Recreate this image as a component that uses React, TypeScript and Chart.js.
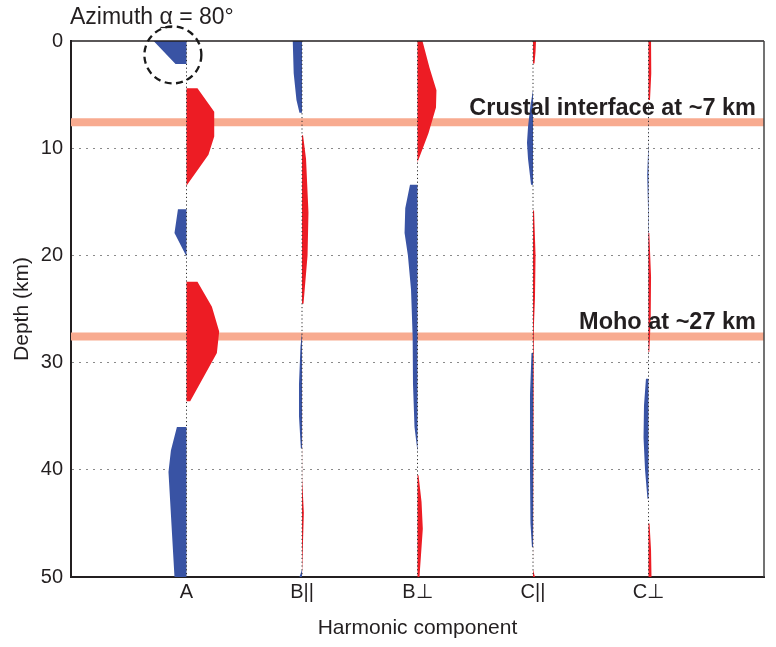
import React, { useEffect, useRef } from 'react';
import { Chart, registerables } from 'chart.js';

Chart.register(...registerables);

// ---- data ----
const categories = ['A', 'B||', 'B⊥', 'C||', 'C⊥'];
const depthTickStep = 10;
const depthMin = 0;
const depthMax = 50;
const interfaceDepths = [7.57, 27.57];
const interfaceLabels = ['Crustal interface at ~7 km', 'Moho at ~27 km'];
const titleParts = ['Azimuth ', 'α', ' = 80°'];
const highlightPoint = { component: 0.882, depth: 1.3 };

// amplitudes in % of the spacing between components
const depthA = [0, 2.15, 2.15, 4.4, 4.4, 6.6, 8.9, 10.6, 13.5, 15.7, 15.7, 17.9, 20.1, 22.45, 22.45, 24.8, 27.1, 29.1, 33.6, 33.6, 36, 36, 38.2, 40.2, 50];
const ampA = [-28.5, -9.5, 0, 0, 9.5, 24, 24, 19, 0, 0, -7.4, -10.4, 0, 0, 9.5, 22, 28.3, 26.3, 3.2, 0, 0, -8.3, -13.5, -15.6, -10.4];

const depthBpar = [0, 3, 5.5, 6.7, 6.7, 8.8, 8.8, 11, 16, 20, 24.5, 24.5, 27.2, 28.5, 32, 35, 38, 38, 40.8, 40.8, 44, 47.3, 47.3, 49.3, 50];
const ampBpar = [-8, -7.2, -4.8, -2.2, 0, 0, 0.9, 3.5, 5.6, 4.8, 1.3, 0, 0, -1.3, -2.6, -2.6, -1, 0, 0, 0.7, 1.6, 0.7, 0, 0, -2.2];

const depthBperp = [0, 2.5, 4.6, 6.2, 8.6, 11.3, 13.4, 13.4, 15.6, 17.9, 20, 23.2, 27.6, 32, 36, 38.3, 40.5, 40.5, 43, 45.5, 48, 50];
const ampBperp = [4.3, 10.4, 16.4, 16, 9.5, 0, 0, -6.5, -10.6, -11.2, -8.3, -5.6, -4.2, -3.9, -2.6, 0, 0, 0.9, 3.5, 4.6, 3, 1.7];

const depthCpar = [0, 1, 2.1, 2.1, 4.6, 6, 8, 9.5, 11, 13.4, 13.4, 15.8, 15.8, 20, 24, 26.8, 26.8, 29.1, 29.1, 33, 40, 45, 47.2, 47.2, 49.3, 50];
const ampCpar = [2.6, 2.2, 1.3, 0, 0, -2.2, -4.3, -5.2, -4.3, -1.7, 0, 0, 0.9, 2.2, 1.7, 0.7, 0, 0, -1.3, -2.6, -2.6, -2.2, -0.9, 0, 0, 1.7];

const depthCperp = [0, 3, 5.5, 5.5, 9.5, 9.5, 12.5, 15.6, 15.6, 17.9, 17.9, 22, 26, 29, 29, 31.5, 31.5, 34, 37, 40, 42.7, 42.7, 45, 45, 47.5, 50];
const ampCperp = [2.2, 2.4, 1.3, 0, 0, -0.4, -1.1, -0.4, 0, 0, 0.7, 2.2, 1.9, 0.7, 0, 0, -2.2, -3.9, -4.3, -3, -0.9, 0, 0, 0.9, 2.2, 2.6];

const traceDepths = [depthA, depthBpar, depthBperp, depthCpar, depthCperp];
const traceAmps = [ampA, ampBpar, ampBperp, ampCpar, ampCperp];

const RED = '#ed1c24';
const BLUE = '#3953a4';
const BAND = '#f8ab90';
const INK = '#231f20';
const FONT = '"Liberation Sans", Arial, Helvetica, sans-serif';

function buildDatasets() {
  const ds: any[] = [];
  interfaceDepths.forEach((d) => {
    ds.push({
      data: [{ x: 0, y: d }, { x: categories.length + 1, y: d }],
      borderColor: BAND,
      borderWidth: 8,
      borderCapStyle: 'butt',
      pointRadius: 0,
      fill: false,
      order: 3,
    });
  });
  traceDepths.forEach((depths, i) => {
    const c = i + 1;
    const amps = traceAmps[i];
    const pos = depths.map((d, k) => ({ x: c + Math.max(0, amps[k]) / 100, y: d }));
    const neg = depths.map((d, k) => ({ x: c + Math.min(0, amps[k]) / 100, y: d }));
    ds.push({
      data: pos,
      borderWidth: 0,
      borderColor: 'rgba(0,0,0,0)',
      backgroundColor: RED,
      pointRadius: 0,
      fill: { value: c },
      order: 2,
    });
    ds.push({
      data: neg,
      borderWidth: 0,
      borderColor: 'rgba(0,0,0,0)',
      backgroundColor: BLUE,
      pointRadius: 0,
      fill: { value: c },
      order: 2,
    });
    ds.push({
      data: [{ x: c, y: depthMin }, { x: c, y: depthMax }],
      borderColor: '#2e2e2e',
      borderWidth: 1,
      borderDash: [1.2, 2.6],
      pointRadius: 0,
      fill: false,
      order: 1,
    });
  });
  return ds;
}

const overlayPlugin = {
  id: 'overlay',
  afterDatasetsDraw(chart: any) {
    const { ctx, chartArea, scales } = chart;
    const xs = scales.x;
    const ys = scales.y;
    ctx.save();
    // top and right frame
    ctx.lineWidth = 1.5;
    ctx.strokeStyle = INK;
    ctx.beginPath();
    ctx.moveTo(chartArea.left, chartArea.top);
    ctx.lineTo(chartArea.right, chartArea.top);
    ctx.stroke();
    ctx.strokeStyle = '#444';
    ctx.beginPath();
    ctx.moveTo(chartArea.right, chartArea.top);
    ctx.lineTo(chartArea.right, chartArea.bottom);
    ctx.stroke();

    // interface labels
    ctx.fillStyle = INK;
    ctx.font = `bold 23.5px ${FONT}`;
    ctx.textAlign = 'right';
    ctx.textBaseline = 'alphabetic';
    interfaceDepths.forEach((d, i) => {
      const y = ys.getPixelForValue(d);
      ctx.fillText(interfaceLabels[i], chartArea.right - 8, y - 7.5);
    });

    // highlight circle
    const cx = xs.getPixelForValue(highlightPoint.component);
    const cy = ys.getPixelForValue(highlightPoint.depth);
    ctx.lineWidth = 2.3;
    ctx.strokeStyle = '#1a1a1a';
    ctx.setLineDash([7, 4.5]);
    ctx.beginPath();
    ctx.arc(cx, cy, 28.5, 0, Math.PI * 2);
    ctx.stroke();
    ctx.setLineDash([]);

    // title with underlined alpha
    ctx.font = `23px ${FONT}`;
    ctx.textAlign = 'left';
    let tx = chartArea.left - 1;
    const ty = 24;
    titleParts.forEach((part, i) => {
      ctx.fillText(part, tx, ty);
      const w = ctx.measureText(part).width;
      if (i === 1) {
        ctx.lineWidth = 1.2;
        ctx.strokeStyle = INK;
        ctx.beginPath();
        ctx.moveTo(tx + 1, ty + 3.5);
        ctx.lineTo(tx + w - 1, ty + 3.5);
        ctx.stroke();
      }
      tx += w;
    });
    ctx.restore();
  },
};

export default function App() {
  const ref = useRef<HTMLCanvasElement | null>(null);
  useEffect(() => {
    if (!ref.current) return;
    const chart = new Chart(ref.current, {
      type: 'line',
      data: { datasets: buildDatasets() },
      options: {
        indexAxis: 'y',
        responsive: false,
        animation: false,
        layout: { padding: { left: 0, top: 41, right: 12, bottom: 0 } },
        plugins: {
          legend: { display: false },
          tooltip: { enabled: false },
          title: { display: false },
        },
        scales: {
          x: {
            type: 'linear',
            position: 'bottom',
            min: 0,
            max: categories.length + 1,
            afterBuildTicks: (scale: any) => {
              scale.ticks = categories.map((_, i) => ({ value: i + 1 }));
            },
            afterFit: (scale: any) => {
              scale.height = 70;
            },
            ticks: {
              autoSkip: false,
              maxRotation: 0,
              padding: 3,
              color: INK,
              font: { family: FONT, size: 20 },
              callback: (v: any) => categories[Number(v) - 1] ?? '',
            },
            grid: { display: false, drawTicks: false },
            border: { display: true, color: INK, width: 2 },
            title: {
              display: true,
              text: 'Harmonic component',
              color: INK,
              font: { family: FONT, size: 21 },
              padding: { top: 0, bottom: 6 },
            },
          },
          y: {
            type: 'linear',
            position: 'left',
            reverse: true,
            min: depthMin,
            max: depthMax,
            afterFit: (scale: any) => {
              scale.width = 71;
            },
            ticks: {
              stepSize: depthTickStep,
              padding: 8,
              color: INK,
              font: { family: FONT, size: 20 },
            },
            grid: {
              drawTicks: false,
              lineWidth: 1,
              color: (c: any) =>
                c.tick && (c.tick.value === depthMin || c.tick.value === depthMax) ? 'rgba(0,0,0,0)' : '#8a8a8a',
            },
            border: { display: true, color: INK, width: 2, dash: [2, 5] },
            title: {
              display: true,
              text: 'Depth (km)',
              color: INK,
              font: { family: FONT, size: 21 },
              padding: { top: 10, bottom: 0 },
            },
          },
        },
      },
      plugins: [overlayPlugin],
    } as any);
    return () => chart.destroy();
  }, []);
  return (
    <div style={{ position: 'fixed', left: 0, top: 0, width: 776, height: 647, background: '#fff' }}>
      <canvas ref={ref} width={776} height={647} style={{ width: 776, height: 647, display: 'block' }} />
    </div>
  );
}
